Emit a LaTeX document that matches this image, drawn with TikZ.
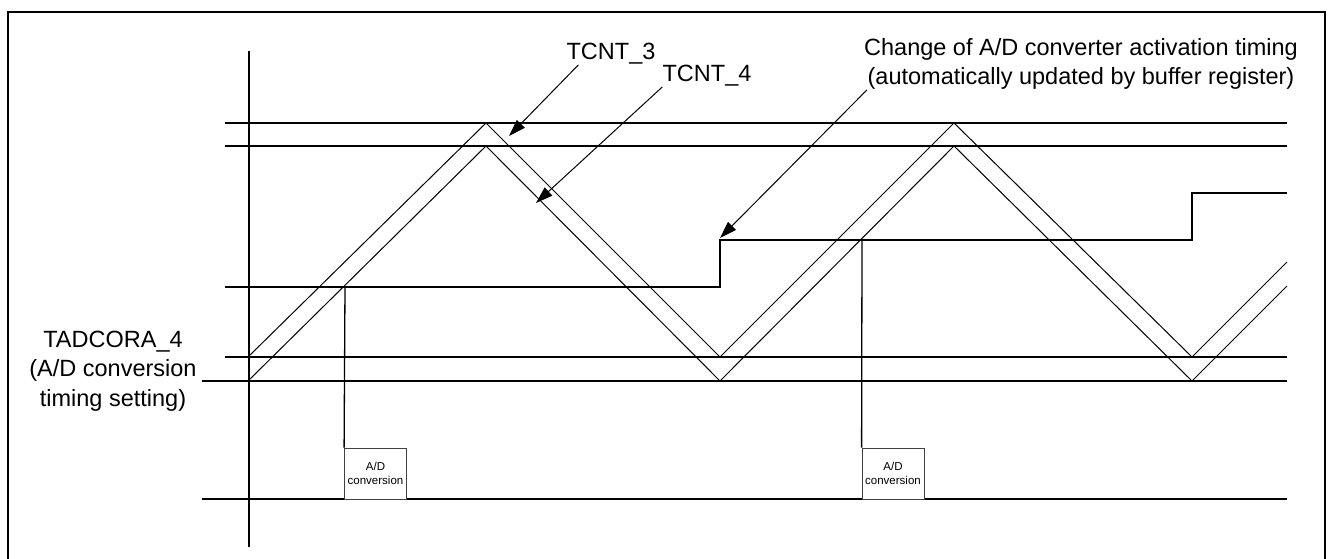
\documentclass[tikz,border=0pt]{standalone}
\usepackage{fontspec}
\setmainfont{Liberation Sans}
\usetikzlibrary{arrows.meta}
\begin{document}
\begin{tikzpicture}[x=1pt,y=-1pt,>={Triangle[length=17pt,width=11pt]},
        lbl/.style={inner sep=0pt,font=\fontsize{23.5}{29.5}\selectfont},
        adbox/.style={draw=black!75,line width=0.8pt,fill=white,minimum width=62pt,minimum height=51pt,inner sep=0pt,align=center,font=\fontsize{11.5}{14}\selectfont},
        level/.style={line width=1.3pt},
        wave/.style={line width=1pt}]
    \useasboundingbox (0,0) rectangle (1328,559);
    \draw[line width=2pt] (8,559)--(8,12)--(1325,12)--(1325,559);
    \draw[level] (249,51)--(249,547);
    \draw[level] (225,123)--(1287,123);
    \draw[level] (225,146)--(1287,146);
    \draw[level] (225,357)--(1287,357);
    \draw[level] (202,381)--(1287,381);
    \draw[level] (202,499)--(1287,499);
    \draw[level] (225,287)--(720,287)--(720,240)--(1192,240)--(1192,193)--(1287,193);
    \draw[wave] (248,357)--(486,123)--(720,357)--(954,123)--(1192,357)--(1287,262); % TCNT_3
    \draw[wave] (248,381)--(486,146)--(720,381)--(954,146)--(1192,381)--(1287,286); % TCNT_4
    \node[adbox] (ad1) at (375.5,473.5) {A/D\\conversion};
    \node[adbox] (ad2) at (893,473.5) {A/D\\conversion};
    \coordinate (trig1) at (345,286);
    \coordinate (trig2) at (862,240);
    \draw[level] (trig1)--(ad1.north west);
    \draw[level] (trig2)--(ad2.north west);
    \node[lbl,anchor=base] (tcnt3) at (611,60) {TCNT\_3};
    \node[lbl,anchor=base] (tcnt4) at (707,82) {TCNT\_4};
    \node[lbl,align=center] (change) at (1081,64) {Change of A/D converter activation timing\\(automatically updated by buffer register)};
    \node[lbl,align=center] (tadcora) at (113,371) {TADCORA\_4\\(A/D conversion\\timing setting)};
    \coordinate (t3tip) at (509,136);
    \coordinate (t4tip) at (536,203);
    \coordinate (steptip) at (720,238);
    \draw[->,line width=1pt] ([xshift=12pt]tcnt3.south west)--(t3tip);
    \draw[->,line width=1pt] (tcnt4.south west)--(t4tip);
    \draw[->,line width=1pt] ([xshift=3pt]change.south west)--(steptip);
\end{tikzpicture}
\end{document}
